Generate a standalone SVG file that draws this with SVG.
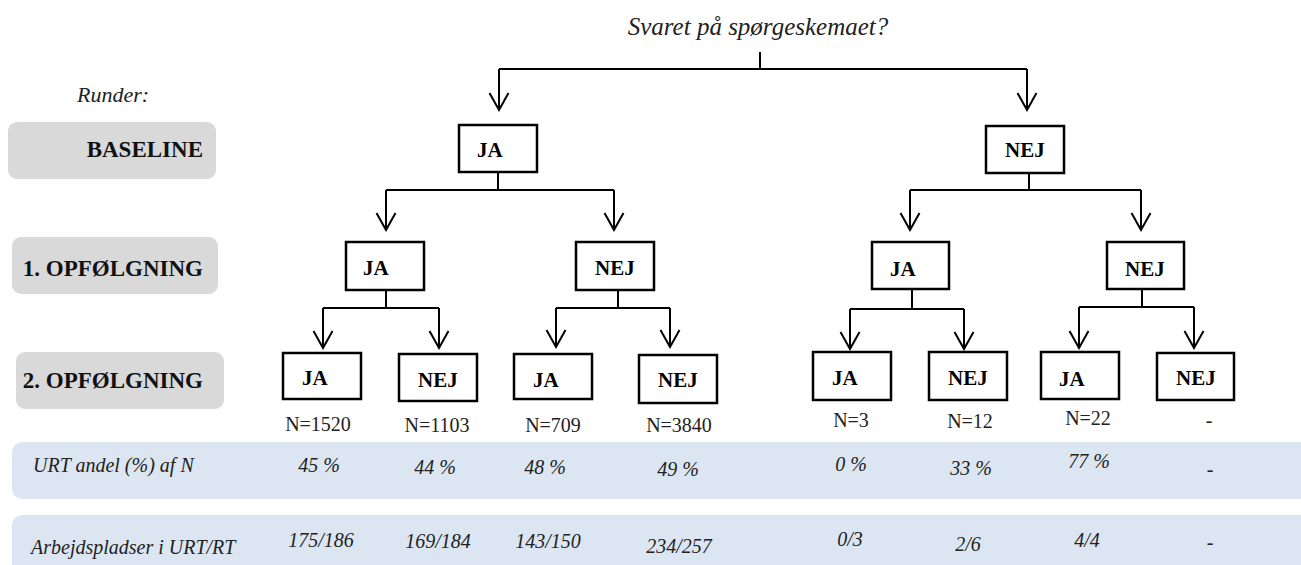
<svg xmlns="http://www.w3.org/2000/svg" width="1301" height="565" viewBox="0 0 1301 565">
<defs>
<style>
text{font-family:"Liberation Serif","Times New Roman","DejaVu Serif",serif}
.box{fill:#fff;stroke:#000;stroke-width:2.5}
.lbl{font-weight:bold;font-size:21px;fill:#000}
.round{fill:#d9d9d9}
.rlbl{font-weight:bold;font-size:23px;fill:#111;text-anchor:end}
.band{fill:#dce6f2}
.it{font-style:italic;font-size:20px;fill:#222}
.itc{font-style:italic;font-size:20px;fill:#222;text-anchor:middle}
.n{font-size:20px;fill:#222;text-anchor:middle}
.ln{fill:none;stroke:#000;stroke-width:2}
.ar{fill:none;stroke:#000;stroke-width:2;marker-end:url(#v)}
</style>
<marker id="v" markerUnits="userSpaceOnUse" viewBox="-1 -11 20 22" markerWidth="20" markerHeight="22" refX="17" refY="0" orient="auto">
<path d="M0,-9.5 L17,0 L0,9.5" fill="none" stroke="#000" stroke-width="2"/>
</marker>
</defs>

<rect class="band" x="12" y="442" width="1300" height="57" rx="10"/>
<rect class="band" x="12" y="515" width="1300" height="62" rx="10"/>

<text x="758" y="35" font-style="italic" font-size="25" fill="#222" text-anchor="middle">Svaret på spørgeskemaet?</text>
<text x="77" y="102" font-style="italic" font-size="22" fill="#222">Runder:</text>

<g id="round-baseline"><rect class="round" x="8" y="122" width="208" height="57" rx="9"/><text class="rlbl" x="203" y="157">BASELINE</text></g>
<g id="round-1"><rect class="round" x="12" y="237" width="206" height="57" rx="9"/><text class="rlbl" x="203" y="276">1. OPFØLGNING</text></g>
<g id="round-2"><rect class="round" x="16" y="352" width="208" height="57" rx="9"/><text class="rlbl" x="203" y="388">2. OPFØLGNING</text></g>

<g id="connectors">
<path class="ln" d="M760,52 V69 M499,69 H1027"/>
<path class="ar" d="M499,69 V110"/><path class="ar" d="M1027,69 V110"/>
<path class="ln" d="M498,172 V190 M386,190 H614"/>
<path class="ar" d="M386,190 V230"/><path class="ar" d="M614,190 V230"/>
<path class="ln" d="M1029,173 V190 M910,190 H1141"/>
<path class="ar" d="M910,190 V230"/><path class="ar" d="M1141,190 V230"/>
<path class="ln" d="M386,290 V308 M323,308 H439"/>
<path class="ar" d="M323,308 V348"/><path class="ar" d="M439,308 V348"/>
<path class="ln" d="M618,290 V308 M556,308 H670"/>
<path class="ar" d="M556,308 V347"/><path class="ar" d="M670,308 V347"/>
<path class="ln" d="M912,289 V309 M850,309 H964"/>
<path class="ar" d="M850,309 V349"/><path class="ar" d="M964,309 V349"/>
<path class="ln" d="M1142,289 V307 M1079,307 H1194"/>
<path class="ar" d="M1079,307 V348"/><path class="ar" d="M1194,307 V348"/>
</g>

<g id="b-ja"><rect class="box" x="459" y="125" width="78" height="47"/><text class="lbl" x="477" y="157">JA</text></g>
<g id="b-nej"><rect class="box" x="986" y="126" width="78" height="47"/><text class="lbl" x="1005" y="157">NEJ</text></g>

<g id="o1-ja-ja"><rect class="box" x="346" y="242" width="78" height="48"/><text class="lbl" x="363" y="275">JA</text></g>
<g id="o1-ja-nej"><rect class="box" x="576" y="242" width="78" height="48"/><text class="lbl" x="595" y="275">NEJ</text></g>
<g id="o1-nej-ja"><rect class="box" x="872" y="242" width="77" height="47"/><text class="lbl" x="890" y="276">JA</text></g>
<g id="o1-nej-nej"><rect class="box" x="1107" y="242" width="77" height="47"/><text class="lbl" x="1125" y="276">NEJ</text></g>

<g id="o2-1"><rect class="box" x="283" y="353" width="78" height="46"/><text class="lbl" x="302" y="385">JA</text><text class="n" x="318" y="431">N=1520</text></g>
<g id="o2-2"><rect class="box" x="399" y="354" width="78" height="47"/><text class="lbl" x="418" y="387">NEJ</text><text class="n" x="437" y="432">N=1103</text></g>
<g id="o2-3"><rect class="box" x="514" y="354" width="78" height="45"/><text class="lbl" x="533" y="387">JA</text><text class="n" x="553" y="432">N=709</text></g>
<g id="o2-4"><rect class="box" x="639" y="355" width="78" height="48"/><text class="lbl" x="658" y="387">NEJ</text><text class="n" x="679" y="432">N=3840</text></g>
<g id="o2-5"><rect class="box" x="813" y="352" width="78" height="48"/><text class="lbl" x="832" y="385">JA</text><text class="n" x="851" y="427">N=3</text></g>
<g id="o2-6"><rect class="box" x="929" y="352" width="78" height="48"/><text class="lbl" x="948" y="385">NEJ</text><text class="n" x="970" y="428">N=12</text></g>
<g id="o2-7"><rect class="box" x="1041" y="352" width="78" height="47"/><text class="lbl" x="1059" y="386">JA</text><text class="n" x="1088" y="425">N=22</text></g>
<g id="o2-8"><rect class="box" x="1157" y="353" width="77" height="47"/><text class="lbl" x="1176" y="385">NEJ</text><text class="n" x="1209" y="427">-</text></g>

<g id="row-urt">
<text class="it" x="33" y="472">URT andel (%) af N</text>
<text class="itc" x="319" y="472">45 %</text>
<text class="itc" x="435" y="474">44 %</text>
<text class="itc" x="545" y="474">48 %</text>
<text class="itc" x="678" y="476">49 %</text>
<text class="itc" x="851" y="471">0 %</text>
<text class="itc" x="971" y="475">33 %</text>
<text class="itc" x="1089" y="468">77 %</text>
<text class="itc" x="1210" y="476">-</text>
</g>
<g id="row-arb">
<text class="it" x="31" y="554">Arbejdspladser i URT/RT</text>
<text class="itc" x="321" y="547">175/186</text>
<text class="itc" x="438" y="548">169/184</text>
<text class="itc" x="548" y="548">143/150</text>
<text class="itc" x="679" y="553">234/257</text>
<text class="itc" x="850" y="546">0/3</text>
<text class="itc" x="968" y="551">2/6</text>
<text class="itc" x="1087" y="547">4/4</text>
<text class="itc" x="1210" y="549">-</text>
</g>
</svg>
